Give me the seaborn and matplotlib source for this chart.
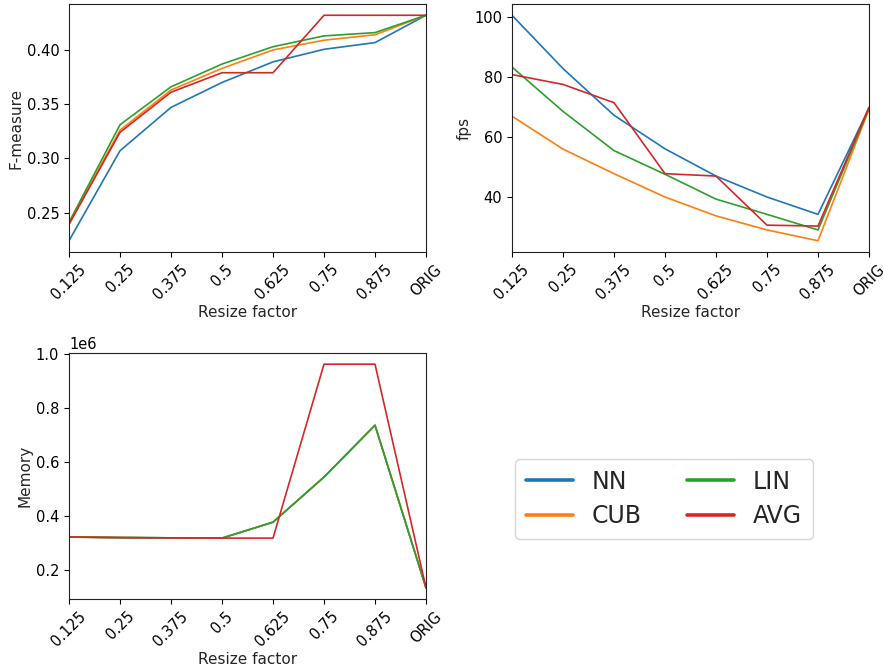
import numpy as np
import pandas as pd
import matplotlib
matplotlib.use("Agg")
import matplotlib.pyplot as plt
import seaborn as sns

factors = ["0.125", "0.25", "0.375", "0.5", "0.625", "0.75", "0.875", "ORIG"]
methods = ["NN", "CUB", "LIN", "AVG"]

fmeasure_nn = [0.224, 0.307, 0.347, 0.370, 0.389, 0.4006, 0.4068, 0.432]
fmeasure_cub = [0.240, 0.326, 0.363, 0.383, 0.400, 0.409, 0.414, 0.432]
fmeasure_lin = [0.241, 0.331, 0.366, 0.387, 0.403, 0.413, 0.416, 0.432]
fmeasure_avg = [0.239, 0.324, 0.361, 0.379, 0.379, 0.432, 0.432, 0.432]

fps_nn = [100.7, 82.9, 67.3, 56.1, 47.0, 40.0, 34.2, 69.7]
fps_cub = [67.0, 56.0, 47.8, 40.0, 33.7, 29.0, 25.4, 69.3]
fps_lin = [83.4, 68.6, 55.5, 47.6, 39.3, 34.2, 29.0, 69.5]
fps_avg = [80.9, 77.6, 71.5, 47.8, 47.0, 30.6, 30.3, 70.0]

mem_nn = [323000, 321000, 320000, 319000, 378000, 545000, 737000, 135000]
mem_cub = [323000, 321000, 320000, 319000, 378000, 545000, 737000, 135000]
mem_lin = [323000, 321000, 320000, 319000, 378000, 545000, 737000, 135000]
mem_avg = [323000, 321000, 320000, 319000, 319000, 963000, 963000, 135000]

palette = ["#1f77b4", "#ff7f0e", "#2ca02c", "#d62728"]


def long_df(series, name):
    rows = []
    for m, vals in zip(methods, series):
        for i, v in enumerate(vals):
            rows.append({"idx": i, "method": m, name: v})
    return pd.DataFrame(rows)


sns.set_style("ticks")
plt.rcParams["font.family"] = ["DejaVu Sans"]
plt.rcParams["font.size"] = 11

W, H = 883, 671
fig = plt.figure(figsize=(W / 100, H / 100), dpi=100)


def ax_at(x0, y0, x1, y1):
    return fig.add_axes([x0 / W, 1 - y1 / H, (x1 - x0) / W, (y1 - y0) / H])


ax1 = ax_at(69, 4, 426, 252)
ax2 = ax_at(512, 4, 869, 252)
ax3 = ax_at(69, 353, 426, 599)

panels = [
    (ax1, [fmeasure_nn, fmeasure_cub, fmeasure_lin, fmeasure_avg], "F-measure"),
    (ax2, [fps_nn, fps_cub, fps_lin, fps_avg], "fps"),
    (ax3, [mem_nn, mem_cub, mem_lin, mem_avg], "Memory"),
]

for ax, series, name in panels:
    df = long_df(series, name)
    sns.lineplot(data=df, x="idx", y=name, hue="method", hue_order=methods,
                 palette=palette, linewidth=1.2, ax=ax, legend=False)
    ax.set_xlim(0, len(factors) - 1)
    ax.set_xticks(range(len(factors)))
    ax.set_xticklabels(factors, rotation=45, fontsize=10.5)
    ax.tick_params(axis="both", labelsize=10.5, colors="black", width=0.8, length=3.5)
    ax.set_xlabel("Resize factor", fontsize=11, labelpad=2)
    ax.set_ylabel(name, fontsize=11, labelpad=2)
    for s in ax.spines.values():
        s.set_visible(True)
        s.set_linewidth(0.8)
        s.set_color("#222222")

ax2.set_yticks([40, 60, 80, 100])
ax1.set_yticks([0.25, 0.30, 0.35, 0.40])
ax3.set_yticks([200000, 400000, 600000, 800000, 1000000])
ax3.yaxis.get_offset_text().set_fontsize(10.5)

handles = [plt.Line2D([], [], color=c, linewidth=2.6) for c in palette]
fig.legend(handles, methods, ncol=2, loc="center",
           bbox_to_anchor=(664 / W, 1 - 499 / H), fontsize=17,
           frameon=True, fancybox=True, edgecolor="#cccccc",
           handlelength=2.0, columnspacing=1.9, borderpad=0.45,
           labelspacing=0.45)

fig.savefig("out.png", dpi=100)
